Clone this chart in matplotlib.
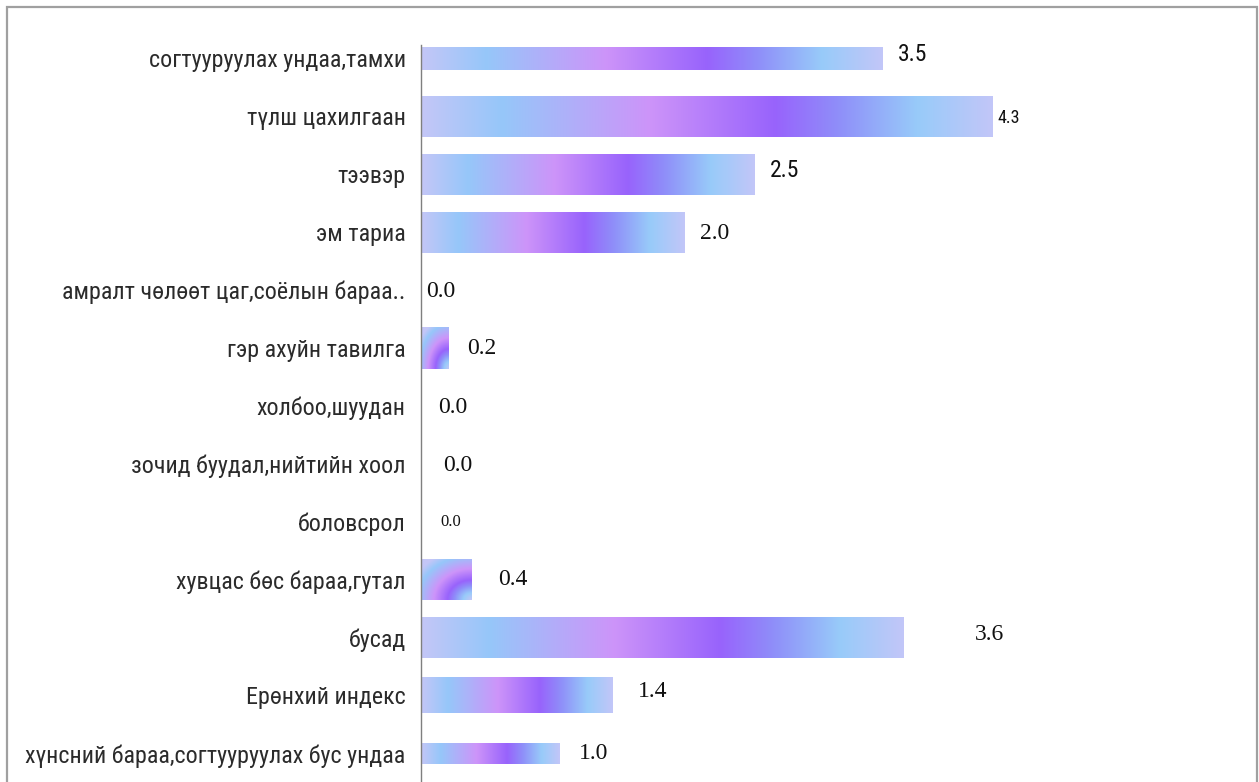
import numpy as np
import matplotlib
matplotlib.use("Agg")
import matplotlib.pyplot as plt
from matplotlib.colors import LinearSegmentedColormap
from matplotlib.patches import Rectangle
from matplotlib import font_manager as fm

# data (top to bottom)
categories = [
    "согтууруулах ундаа,тамхи",
    "түлш цахилгаан",
    "тээвэр",
    "эм тариа",
    "амралт чөлөөт цаг,соёлын бараа..",
    "гэр ахуйн тавилга",
    "холбоо,шуудан",
    "зочид буудал,нийтийн хоол",
    "боловсрол",
    "хувцас бөс бараа,гутал",
    "бусад",
    "Ерөнхий индекс",
    "хүнсний бараа,согтууруулах бус ундаа",
]
values = [3.47, 4.30, 2.51, 1.98, 0.0, 0.21, 0.0, 0.0, 0.0, 0.38, 3.63, 1.44, 1.04]

# narrow sans if there is one, plain Liberation Sans otherwise
avail = {f.name for f in fm.fontManager.ttflist}
NARROW = next((n for n in ["Liberation Sans Narrow", "Roboto Condensed",
                           "Open Sans Condensed", "DejaVu Sans Condensed"] if n in avail),
              "Liberation Sans")
SANS_N = [NARROW, "DejaVu Sans"]
SERIF = ["Liberation Serif", "DejaVu Serif"]

# style
bar_h = [0.38, 0.71, 0.71, 0.71, 0.71, 0.71, 0.71, 0.71, 0.71, 0.71, 0.71, 0.62, 0.36]
lab_dx = [11, 3, 11, 11, 4, 13, 12, 16, 14, 19, 51, 18, 14]      # points from bar end
lab_dy = [3, -1, 3, -1, -1, 0, -1, -1, 0, 0, 2, 3, 0]
lab_fs = [17, 13, 17, 17, 17, 17, 17, 17, 12, 17, 17, 17, 17]
lab_font = [SANS_N, SANS_N, SANS_N] + [SERIF] * 10

grad = LinearSegmentedColormap.from_list("bar", [
    (0.00, "#c4c6f7"), (0.14, "#96c7fa"), (0.40, "#cd94f9"), (0.62, "#9863fc"),
    (0.73, "#8f8ef9"), (0.87, "#98cbfa"), (1.00, "#c2c6f8")])

W, H = 1259, 782
fig = plt.figure(figsize=(W / 100, H / 100), dpi=100)
ax = fig.add_axes([421 / W, 0, (1245 - 421) / W, (H - 45) / H])

# size the category font so the longest label is ~380 px wide
r = fig.canvas.get_renderer()
probe = fig.text(0, 0, categories[-1], family=SANS_N, fontsize=15)
cat_fs = min(18, 15 * 380 / probe.get_window_extent(r).width)
probe.remove()

y = np.arange(len(categories))
bars = ax.barh(y, values, height=bar_h, color="none", edgecolor="none")

xs = np.linspace(0, 1, 256)
for b, v in zip(bars, values):
    if v <= 0:
        continue
    x0, y0 = b.get_x(), b.get_y()
    x1, y1 = x0 + b.get_width(), y0 + b.get_height()
    if v < 0.5:
        # tiny bars get a rounded sweep from the lower right corner
        gx, gy = np.meshgrid(np.linspace(0, 1, 64), np.linspace(0, 1, 64))
        img = 1 - np.clip(np.hypot(1 - gx, 1 - gy) / 1.25, 0, 1)
    else:
        img = np.tile(xs, (2, 1))
    im = ax.imshow(img, cmap=grad, extent=[x0, x1, y1, y0], aspect="auto",
                   interpolation="bilinear", origin="upper", zorder=2)
    im.set_clip_path(b)

for i, v in enumerate(values):
    ax.annotate(f"{v:.1f}", xy=(v, y[i]), xytext=(lab_dx[i], lab_dy[i]),
                textcoords="offset points", ha="left", va="center",
                fontsize=lab_fs[i], family=lab_font[i], color="#111111")

ax.set_xlim(0, (1245 - 421) / 133.0)
ax.set_ylim((H - 58.5) / 57.9, -(58.5 - 45) / 57.9)
ax.set_yticks(y)
ax.set_yticklabels(categories, family=SANS_N, fontsize=cat_fs, color="#2b2b2b")
ax.tick_params(axis="y", length=0, pad=11)
ax.set_xticks([])
for s in ["top", "right", "bottom"]:
    ax.spines[s].set_visible(False)
ax.spines["left"].set_color("#7f7f7f")
ax.spines["left"].set_linewidth(1.0)

# frame around the chart
fig.add_artist(Rectangle((7 / W, -0.05), (1257 - 7) / W, 1.05 - 7 / H,
                         transform=fig.transFigure, fill=False,
                         edgecolor="#a0a0a0", lw=1.6, clip_on=False))

fig.savefig("out.png", dpi=100, facecolor="white")
